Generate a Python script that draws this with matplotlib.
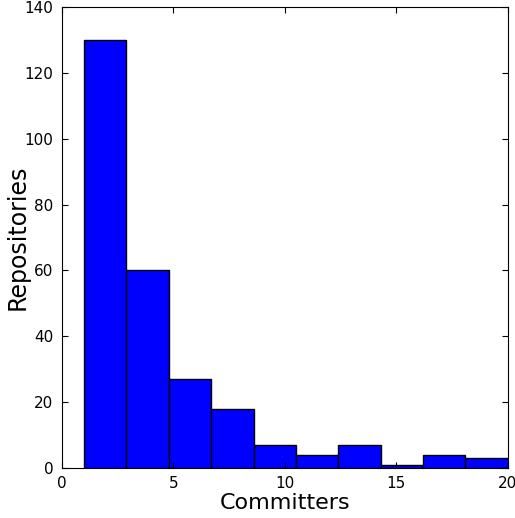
import numpy as np
import matplotlib
matplotlib.use('Agg')
import matplotlib.pyplot as plt

# histogram of committers per repository
counts = [130, 60, 27, 18, 7, 4, 7, 1, 4, 3]
bin_edges = np.linspace(1, 20, 11)

fig = plt.figure(figsize=(5.15, 5.18), dpi=100)
ax = fig.add_axes([0.12, 0.0965, 0.866, 0.89])

ax.hist(bin_edges[:-1], bins=bin_edges, weights=counts,
        color='#0000ff', edgecolor='black', linewidth=1.0)

ax.set_xlim(0, 20)
ax.set_ylim(0, 140)
ax.set_xticks([0, 5, 10, 15, 20])
ax.set_yticks(range(0, 141, 20))
ax.tick_params(direction='in', top=True, right=True, length=4, pad=6,
               labelsize=11)

ax.set_xlabel("Committers", fontsize=16)
ax.set_ylabel("Repositories", fontsize=17)
ax.xaxis.set_label_coords(0.5, -0.054)
ax.yaxis.set_label_coords(-0.072, 0.5)

fig.savefig('out.png', dpi=100)
